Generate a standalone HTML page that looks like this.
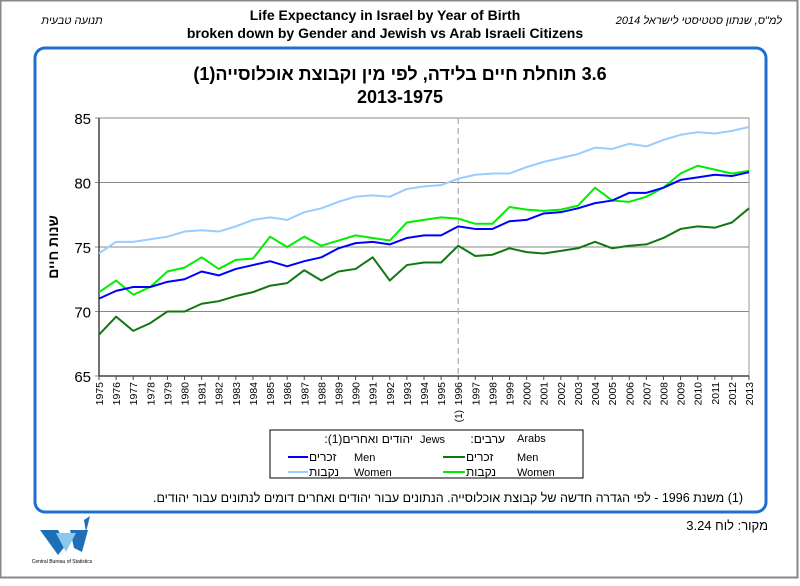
<!DOCTYPE html>
<html><head><meta charset="utf-8"><style>
body{margin:0;background:#fff;width:800px;height:581px;overflow:hidden;font-family:"Liberation Sans","Noto Sans CJK SC",sans-serif;}
.rtl{direction:rtl;unicode-bidi:embed;}
</style></head><body>
<svg width="800" height="581" xmlns="http://www.w3.org/2000/svg">
<rect x="0.5" y="0.5" width="797" height="577" fill="#fff" stroke="#888" stroke-width="2"/>
<text class="rtl" x="72" y="24" font-size="11" font-style="italic" text-anchor="middle">תנועה טבעית</text>
<text class="rtl" x="782" y="24" font-size="11" font-style="italic" text-anchor="start">למ"ס, שנתון סטטיסטי לישראל 2014</text>
<text x="385" y="20" font-size="14" font-weight="bold" text-anchor="middle">Life Expectancy in Israel by Year of Birth</text>
<text x="385" y="38" font-size="14" font-weight="bold" text-anchor="middle">broken down by Gender and Jewish vs Arab Israeli Citizens</text>
<rect x="35" y="48" width="731" height="464" rx="10" fill="#fff" stroke="#1f6fd0" stroke-width="3"/>
<text class="rtl" x="400" y="80" font-size="18" font-weight="bold" text-anchor="middle">3.6 תוחלת חיים בלידה, לפי מין וקבוצת אוכלוסייה(1)</text>
<text x="400" y="103" font-size="18" font-weight="bold" text-anchor="middle">2013-1975</text>
<text class="rtl" transform="translate(58,247) rotate(-90)" font-size="14" font-weight="bold" text-anchor="middle">שנות חיים</text>
<g id="plot"></g>
<g>
<rect x="270" y="430" width="313" height="48" fill="#fff" stroke="#000" stroke-width="1"/>
<text class="rtl" x="413" y="443" font-size="12" text-anchor="start">יהודים ואחרים(1):</text>
<text x="420" y="443" font-size="11">Jews</text>
<text class="rtl" x="505" y="443" font-size="12" text-anchor="start">ערבים:</text>
<text x="517" y="442" font-size="11">Arabs</text>
<line x1="288" y1="457" x2="308" y2="457" stroke="#0000ff" stroke-width="2"/>
<text x="309" y="461" font-size="12">זכרים</text>
<text x="354" y="461" font-size="11">Men</text>
<line x1="288" y1="472" x2="308" y2="472" stroke="#99ccff" stroke-width="2"/>
<text x="309" y="476" font-size="12">נקבות</text>
<text x="354" y="476" font-size="11">Women</text>
<line x1="443" y1="457" x2="465" y2="457" stroke="#117711" stroke-width="2"/>
<text x="466" y="461" font-size="12">זכרים</text>
<text x="517" y="461" font-size="11">Men</text>
<line x1="443" y1="472" x2="465" y2="472" stroke="#00ee00" stroke-width="2"/>
<text x="466" y="476" font-size="12">נקבות</text>
<text x="517" y="476" font-size="11">Women</text>
</g>
<text class="rtl" x="743" y="502" font-size="12.5" text-anchor="start">(1) משנת 1996 - לפי הגדרה חדשה של קבוצת אוכלוסייה. הנתונים עבור יהודים ואחרים דומים לנתונים עבור יהודים.</text>
<text class="rtl" x="768" y="530" font-size="13" text-anchor="start">מקור: לוח 3.24</text>
<g>
<polygon points="40,530 58,530 66,545 58,555" fill="#1d6fb8"/>
<polygon points="70,530 88,530 82,552 74,548" fill="#1d6fb8"/>
<polygon points="56,533 76,533 66,552" fill="#8cc8ec"/>
<polygon points="84,520 90,516 86,532" fill="#1d6fb8"/>
<text x="62" y="563" font-size="5" text-anchor="middle">Central Bureau of Statistics</text>
</g>
</svg>
<script>
const years=[1975,1976,1977,1978,1979,1980,1981,1982,1983,1984,1985,1986,1987,1988,1989,1990,1991,1992,1993,1994,1995,1996,1997,1998,1999,2000,2001,2002,2003,2004,2005,2006,2007,2008,2009,2010,2011,2012,2013];
const yTicks=[65,70,75,80,85];
const jewsMen=[71.0,71.6,71.9,71.9,72.3,72.5,73.1,72.8,73.3,73.6,73.9,73.5,73.9,74.2,74.9,75.3,75.4,75.2,75.7,75.9,75.9,76.6,76.4,76.4,77.0,77.1,77.6,77.7,78.0,78.4,78.6,79.2,79.2,79.6,80.2,80.4,80.6,80.5,80.8];
const jewsWomen=[74.5,75.4,75.4,75.6,75.8,76.2,76.3,76.2,76.6,77.1,77.3,77.1,77.7,78.0,78.5,78.9,79.0,78.9,79.5,79.7,79.8,80.3,80.6,80.7,80.7,81.2,81.6,81.9,82.2,82.7,82.6,83.0,82.8,83.3,83.7,83.9,83.8,84.0,84.3];
const arabsMen=[68.2,69.6,68.5,69.1,70.0,70.0,70.6,70.8,71.2,71.5,72.0,72.2,73.2,72.4,73.1,73.3,74.2,72.4,73.6,73.8,73.8,75.1,74.3,74.4,74.9,74.6,74.5,74.7,74.9,75.4,74.9,75.1,75.2,75.7,76.4,76.6,76.5,76.9,78.0];
const arabsWomen=[71.5,72.4,71.3,71.9,73.1,73.4,74.2,73.3,74.0,74.1,75.8,75.0,75.8,75.1,75.5,75.9,75.7,75.5,76.9,77.1,77.3,77.2,76.8,76.8,78.1,77.9,77.8,77.9,78.2,79.6,78.6,78.5,78.9,79.6,80.7,81.3,81.0,80.7,80.9];
const L=99,R=749,T=118,B=376;
const X=i=>L+(R-L)*i/(years.length-1);
const Y=v=>B-(v-65)/20*(B-T);
const NS='http://www.w3.org/2000/svg';
const g=document.getElementById('plot');
function mk(tag,at){const e=document.createElementNS(NS,tag);for(const k in at)e.setAttribute(k,at[k]);g.appendChild(e);return e;}
const bg=mk('rect',{x:L,y:T,width:R-L,height:B-T,fill:'#fff',stroke:'#999'});


yTicks.forEach(t=>{
 const ln=mk('line',{x1:L-4,x2:R,y1:Y(t),y2:Y(t),stroke:'#888','stroke-width':1});
 
 
 const tx=mk('text',{x:L-8,y:Y(t)+6,'font-size':15,'text-anchor':'end'});
 tx.textContent=t;
 
 
});
const ax=mk('line',{x1:L,x2:L,y1:T,y2:B,stroke:'#444','stroke-width':1.5});


const xa=mk('line',{x1:L,x2:R,y1:B,y2:B,stroke:'#444','stroke-width':1.5});


const di=years.indexOf(1996);
const dl=mk('line',{x1:X(di),x2:X(di),y1:T,y2:B,stroke:'#aaa','stroke-width':1.2,'stroke-dasharray':'6,4'});


years.forEach((yr,i)=>{
 const tk=mk('line',{x1:X(i),x2:X(i),y1:B,y2:B+4,stroke:'#444'});
 
 
 const tx=mk('text',{transform:`translate(${X(i)+4},${B+6}) rotate(-90)`,'font-size':10.5,'text-anchor':'end'});
 tx.textContent=yr;
 
 
});
const fn=mk('text',{transform:`translate(${X(di)+4},${B+34}) rotate(-90)`,'font-size':10,'text-anchor':'end'});
fn.textContent='(1)';


[[jewsWomen,'#99ccff','jews-women'],[arabsWomen,'#00ee00','arabs-women'],[jewsMen,'#0000ff','jews-men'],[arabsMen,'#117711','arabs-men']].forEach(([d,c,n])=>{
 const p=mk('polyline',{points:d.map((v,i)=>X(i)+','+Y(v)).join(' '),fill:'none',stroke:c,'stroke-width':2,'stroke-linejoin':'round'});
 
 
});
</script>
</body></html>
